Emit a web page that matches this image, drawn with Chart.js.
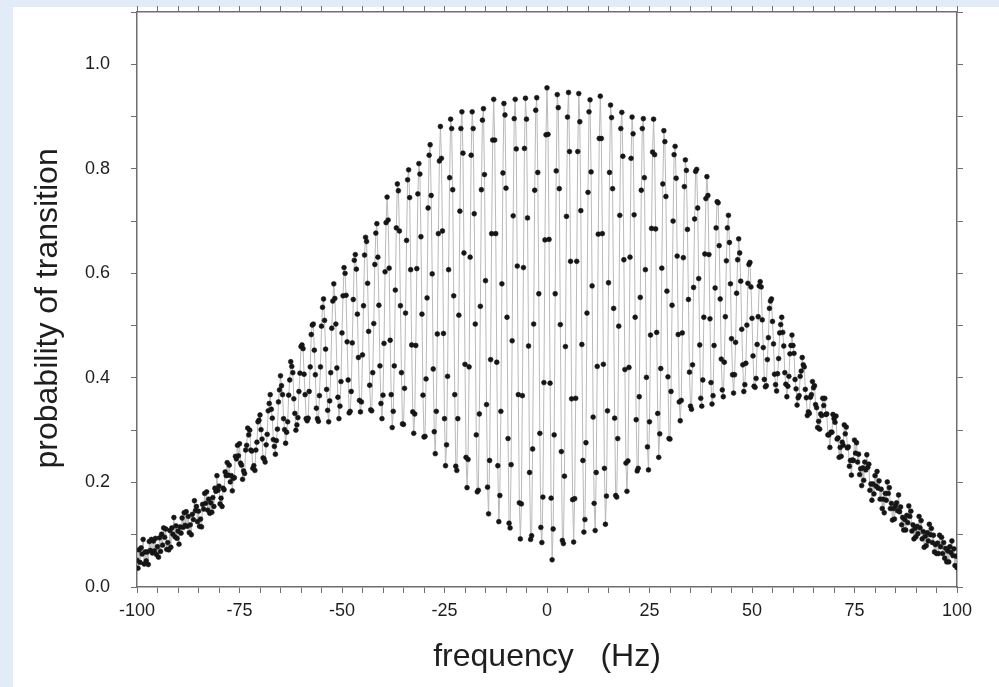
<!DOCTYPE html>
<html>
<head>
<meta charset="utf-8">
<script src="https://cdn.jsdelivr.net/npm/chart.js@4.4.1/dist/chart.umd.min.js"></script>
<style>
  html, body { margin: 0; padding: 0; overflow: hidden; background: #e2ecf8; }
  canvas { display: block; }
</style>
</head>
<body>
<canvas id="chart" width="999" height="687"></canvas>
<script>
// frequency sweep: -100 Hz .. +100 Hz, one point every 0.25 Hz
const freqStart = -100;
const freqStep = 0.25;

// probability of transition below 0 Hz, 20 points (5 Hz) per line
const probNeg = [
  0.051,0.036,0.071,0.047,0.075,0.063,0.091,0.044,0.067,0.050,0.067,0.043,0.087,0.070,0.091,0.065,0.088,0.069,0.093,0.062,
  0.077,0.057,0.094,0.068,0.101,0.080,0.113,0.095,0.111,0.072,0.085,0.071,0.108,0.076,0.113,0.101,0.133,0.096,0.117,0.093,
  0.107,0.082,0.115,0.103,0.132,0.114,0.142,0.118,0.144,0.116,0.135,0.104,0.119,0.100,0.139,0.129,0.165,0.146,0.154,0.125,
  0.145,0.116,0.130,0.115,0.158,0.149,0.179,0.160,0.182,0.147,0.168,0.141,0.161,0.143,0.171,0.154,0.189,0.183,0.213,0.185,
  0.193,0.159,0.170,0.154,0.189,0.186,0.220,0.213,0.238,0.214,0.233,0.201,0.213,0.184,0.208,0.209,0.250,0.245,0.271,0.251,
  0.274,0.237,0.233,0.206,0.222,0.217,0.262,0.271,0.304,0.291,0.300,0.262,0.260,0.227,0.232,0.223,0.262,0.277,0.316,0.319,
  0.329,0.301,0.283,0.247,0.245,0.239,0.272,0.292,0.337,0.351,0.368,0.340,0.323,0.282,0.269,0.254,0.280,0.302,0.354,0.377,
  0.404,0.385,0.368,0.322,0.301,0.275,0.296,0.316,0.367,0.396,0.431,0.422,0.410,0.360,0.332,0.300,0.310,0.324,0.374,0.409,
  0.460,0.463,0.456,0.407,0.368,0.322,0.318,0.323,0.374,0.421,0.483,0.501,0.503,0.453,0.406,0.342,0.322,0.317,0.366,0.421,
  0.499,0.535,0.551,0.510,0.455,0.378,0.338,0.316,0.356,0.410,0.495,0.547,0.580,0.552,0.503,0.419,0.363,0.322,0.346,0.393,
  0.486,0.557,0.611,0.600,0.558,0.469,0.396,0.333,0.336,0.374,0.467,0.550,0.625,0.636,0.608,0.522,0.439,0.357,0.335,0.354,
  0.444,0.538,0.635,0.669,0.661,0.581,0.489,0.386,0.339,0.337,0.410,0.504,0.617,0.677,0.695,0.631,0.539,0.423,0.351,0.322,
  0.367,0.466,0.603,0.697,0.746,0.702,0.610,0.472,0.368,0.305,0.336,0.423,0.568,0.687,0.771,0.758,0.681,0.538,0.410,0.312,
  0.311,0.380,0.524,0.663,0.779,0.798,0.745,0.607,0.463,0.335,0.294,0.331,0.462,0.609,0.752,0.810,0.790,0.670,0.522,0.367,
  0.287,0.288,0.398,0.553,0.725,0.826,0.846,0.749,0.599,0.417,0.297,0.255,0.336,0.484,0.676,0.815,0.881,0.820,0.681,0.485,
  0.322,0.232,0.272,0.403,0.607,0.783,0.895,0.877,0.760,0.557,0.368,0.231,0.223,0.322,0.520,0.719,0.877,0.909,0.830,0.639,
  0.426,0.248,0.190,0.244,0.421,0.631,0.826,0.909,0.877,0.714,0.503,0.291,0.182,0.185,0.331,0.537,0.760,0.893,0.915,0.789,
  0.586,0.349,0.191,0.140,0.242,0.435,0.676,0.855,0.933,0.855,0.676,0.430,0.232,0.125,0.175,0.336,0.580,0.792,0.925,0.903,
  0.763,0.516,0.284,0.122,0.113,0.234,0.471,0.710,0.896,0.933,0.838,0.614,0.368,0.161,0.092,0.159,0.366,0.611,0.839,0.935,
  0.895,0.706,0.461,0.219,0.091,0.098,0.264,0.503,0.759,0.912,0.936,0.793,0.561,0.294,0.114,0.085,0.172,0.391,0.664,0.865
];

// the point at 0 Hz
const probZero = [0.955];

// probability of transition above 0 Hz, 20 points (5 Hz) per line
const probPos = [
  0.866,0.665,0.390,0.170,0.052,0.111,0.291,0.561,0.796,0.942,0.917,0.762,0.502,0.259,0.089,0.083,0.212,0.460,0.709,0.899,
  0.946,0.833,0.623,0.360,0.167,0.086,0.169,0.361,0.623,0.833,0.944,0.890,0.720,0.464,0.242,0.105,0.129,0.276,0.524,0.755,
  0.909,0.932,0.794,0.576,0.325,0.160,0.108,0.219,0.422,0.675,0.858,0.939,0.858,0.676,0.426,0.227,0.120,0.174,0.337,0.582,
  0.793,0.922,0.898,0.762,0.533,0.323,0.175,0.172,0.284,0.499,0.711,0.877,0.908,0.824,0.626,0.416,0.237,0.183,0.241,0.420,
  0.631,0.820,0.899,0.867,0.712,0.516,0.320,0.222,0.227,0.364,0.554,0.759,0.877,0.896,0.783,0.607,0.401,0.268,0.224,0.316,
  0.482,0.686,0.832,0.895,0.827,0.685,0.487,0.332,0.248,0.293,0.418,0.610,0.771,0.873,0.852,0.747,0.566,0.402,0.284,0.283,
  0.374,0.539,0.700,0.827,0.843,0.782,0.633,0.483,0.354,0.318,0.357,0.486,0.630,0.766,0.817,0.797,0.684,0.550,0.411,0.346,
  0.340,0.425,0.573,0.704,0.795,0.799,0.725,0.590,0.463,0.361,0.346,0.396,0.516,0.637,0.743,0.785,0.749,0.636,0.513,0.391,
  0.350,0.366,0.462,0.572,0.687,0.737,0.735,0.653,0.551,0.436,0.377,0.364,0.430,0.517,0.624,0.687,0.711,0.659,0.580,0.475,
  0.406,0.371,0.406,0.468,0.562,0.626,0.666,0.639,0.585,0.493,0.425,0.374,0.387,0.428,0.501,0.581,0.617,0.621,0.574,0.514,
  0.442,0.384,0.382,0.399,0.464,0.517,0.576,0.584,0.574,0.511,0.458,0.397,0.383,0.385,0.435,0.477,0.533,0.547,0.551,0.508,
  0.465,0.407,0.387,0.375,0.408,0.437,0.486,0.502,0.516,0.487,0.461,0.410,0.388,0.364,0.384,0.403,0.446,0.462,0.482,0.462,
  0.447,0.397,0.379,0.348,0.362,0.366,0.403,0.413,0.439,0.425,0.421,0.378,0.362,0.328,0.335,0.332,0.363,0.368,0.393,0.381,
  0.385,0.349,0.343,0.305,0.317,0.302,0.331,0.328,0.361,0.347,0.361,0.330,0.331,0.291,0.291,0.267,0.296,0.296,0.330,0.322,
  0.315,0.327,0.283,0.285,0.248,0.267,0.250,0.277,0.271,0.310,0.293,0.306,0.266,0.268,0.231,0.242,0.214,0.243,0.242,0.281,
  0.256,0.276,0.239,0.254,0.215,0.226,0.194,0.228,0.204,0.239,0.224,0.253,0.229,0.235,0.185,0.197,0.166,0.197,0.178,0.213,
  0.193,0.221,0.189,0.203,0.168,0.187,0.150,0.168,0.142,0.179,0.166,0.201,0.179,0.190,0.150,0.160,0.128,0.150,0.130,0.155,
  0.161,0.146,0.176,0.144,0.153,0.119,0.133,0.109,0.129,0.109,0.137,0.123,0.155,0.135,0.145,0.107,0.119,0.092,0.112,0.096,
  0.116,0.102,0.135,0.113,0.127,0.092,0.106,0.076,0.097,0.079,0.104,0.088,0.120,0.100,0.112,0.085,0.099,0.067,0.081,0.064,
  0.084,0.064,0.099,0.077,0.095,0.064,0.085,0.055,0.074,0.048,0.069,0.048,0.077,0.066,0.088,0.060,0.073,0.041,0.059,0.037
];

const xTickLabels = [-100, -75, -50, -25, 0, 25, 50, 75, 100];
const yTickLabels = [0.0, 0.2, 0.4, 0.6, 0.8, 1.0];

let font = "'Liberation Sans', Arial, sans-serif";
let axisColor = "#6f6f6f";
let textColor = "#1e1e1e";

let probs = probNeg.concat(probZero, probPos);
let points = probs.map((p, i) => ({ x: freqStart + i * freqStep, y: p }));

// light blue page with the white panel on top of it
const panelBg = {
  id: "panelBg",
  beforeDraw(chart) {
    let ctx = chart.ctx;
    ctx.save();
    ctx.fillStyle = "#e2ecf8";
    ctx.fillRect(0, 0, chart.width, chart.height);
    ctx.fillStyle = "#ffffff";
    ctx.fillRect(13, 7, chart.width - 13, chart.height - 7);
    ctx.restore();
  },
};

// fixed box sizes so the plot area lands at (137,12)-(957,587)
function fixSize(s, size) {
  if (s.isHorizontal()) {
    s.height = size;
  } else {
    s.width = size;
    s.paddingTop = 0;
    s.paddingBottom = 0;
  }
}

// plain framing axes (top and right): tick marks only
function frame(position, size, min, max, step) {
  return {
    type: "linear",
    position: position,
    min: min,
    max: max,
    border: { color: axisColor, width: 1.5 },
    grid: { drawOnChartArea: false, color: axisColor, tickLength: 6, tickWidth: 1 },
    ticks: { display: false, stepSize: step },
    afterFit: (s) => fixSize(s, size),
  };
}

let topAxis = frame("top", 12, -100, 100, 5);
let rightAxis = frame("right", 42, 0, 1.1, 0.1);

new Chart(document.querySelector("#chart"), {
  type: "line",
  data: {
    datasets: [
      {
        data: points,
        xAxisID: "x",
        yAxisID: "y",
        borderColor: "#bababa",
        borderWidth: 1,
        tension: 0,
        pointRadius: 2.4,
        pointBackgroundColor: "#151515",
        pointBorderColor: "#151515",
        pointBorderWidth: 0.6,
      },
    ],
  },
  options: {
    responsive: false,
    animation: false,
    layout: { padding: 0 },
    plugins: { legend: { display: false }, tooltip: { enabled: false } },
    scales: {
      x: {
        type: "linear",
        position: "bottom",
        min: -100,
        max: 100,
        border: { color: axisColor, width: 1.5 },
        grid: { drawOnChartArea: false, color: axisColor, tickLength: 6, tickWidth: 1 },
        ticks: {
          stepSize: 5,
          autoSkip: false,
          maxRotation: 0,
          padding: 7,
          color: textColor,
          font: { family: font, size: 18 },
          callback: (v) => (xTickLabels.includes(v) ? String(v) : ""),
        },
        title: {
          display: true,
          text: "frequency   (Hz)",
          color: textColor,
          font: { family: font, size: 32 },
          padding: { bottom: 11 },
        },
        afterFit: (s) => fixSize(s, 100),
      },
      x2: topAxis,
      y: {
        type: "linear",
        position: "left",
        min: 0,
        max: 1.1,
        border: { color: axisColor, width: 1.5 },
        grid: { drawOnChartArea: false, color: axisColor, tickLength: 6, tickWidth: 1 },
        ticks: {
          stepSize: 0.1,
          autoSkip: false,
          padding: 21,
          color: textColor,
          font: { family: font, size: 18 },
          callback: (v) => {
            let hit = yTickLabels.find((t) => Math.abs(t - v) < 1e-6);
            return hit === undefined ? "" : hit.toFixed(1);
          },
        },
        title: {
          display: true,
          text: "probability of transition  ",
          color: textColor,
          font: { family: font, size: 32 },
          padding: { top: 29 },
        },
        afterFit: (s) => fixSize(s, 137),
      },
      y2: rightAxis,
    },
  },
  plugins: [panelBg],
});
</script>
</body>
</html>
